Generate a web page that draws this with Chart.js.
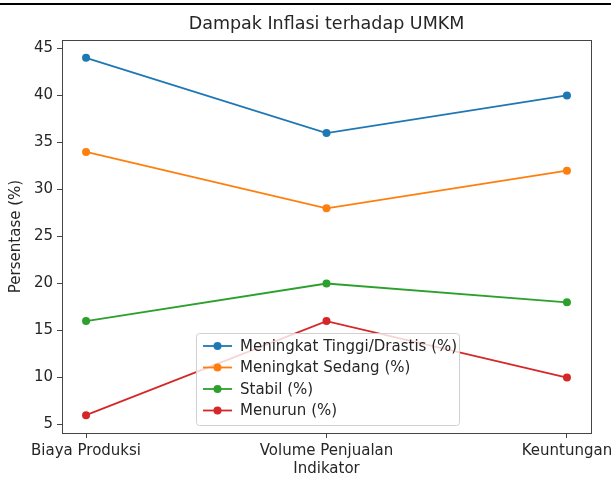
<!DOCTYPE html>
<html>
<head>
<meta charset="utf-8">
<script src="https://cdn.jsdelivr.net/npm/chart.js@4/dist/chart.umd.min.js"></script>
<style>
  html, body { margin: 0; padding: 0; background: #fff; }
  #wrap { position: relative; width: 611px; height: 478px; }
  #topline { position: absolute; left: 0; top: 3px; width: 611px; height: 2px; background: #000; }
</style>
</head>
<body>
<div id="wrap">
  <canvas id="chart" width="611" height="478"></canvas>
  <div id="topline"></div>
</div>
<script>
// data
const indikator = ["Biaya Produksi", "Volume Penjualan", "Keuntungan"];
const tinggi = [44, 36, 40];
const sedang = [34, 28, 32];
const stabil = [16, 20, 18];
const menurun = [6, 16, 10];
const seriesLabels = ["Meningkat Tinggi/Drastis (%)", "Meningkat Sedang (%)", "Stabil (%)", "Menurun (%)"];
const yTicks = [5, 10, 15, 20, 25, 30, 35, 40, 45];

const colors = ["#1f77b4", "#ff7f0e", "#2ca02c", "#d62728"];
const FONT = "'DejaVu Sans', sans-serif";
const TEXT = "#262626";

function toPoints(arr) {
  return arr.map((v, i) => ({ x: i, y: v }));
}

const datasets = [tinggi, sedang, stabil, menurun].map((arr, i) => ({
  label: seriesLabels[i],
  data: toPoints(arr),
  borderColor: colors[i],
  backgroundColor: colors[i],
  borderWidth: 1.8,
  pointRadius: 4,
  pointHoverRadius: 4,
  pointBorderWidth: 0,
  tension: 0,
}));

// frame, title and legend drawn matplotlib style
const mplExtras = {
  id: "mplExtras",
  afterDraw(chart) {
    const ctx = chart.ctx;
    const ca = chart.chartArea;
    ctx.save();
    // axes frame
    ctx.strokeStyle = "#444";
    ctx.lineWidth = 1;
    ctx.strokeRect(Math.round(ca.left) + 0.5, Math.round(ca.top) + 0.5,
      Math.round(ca.right - ca.left), Math.round(ca.bottom - ca.top));

    // title
    ctx.fillStyle = TEXT;
    ctx.font = "17.5px " + FONT;
    ctx.textAlign = "center";
    ctx.textBaseline = "middle";
    ctx.fillText("Dampak Inflasi terhadap UMKM", (ca.left + ca.right) / 2, 24);

    // legend
    const lx = ca.left + 134, ly = ca.top + 293, lw = 263, lh = 92;
    ctx.fillStyle = "rgba(255,255,255,0.8)";
    ctx.strokeStyle = "#d0d0d0";
    ctx.lineWidth = 1;
    ctx.beginPath();
    ctx.roundRect(lx + 0.5, ly + 0.5, lw, lh, 3);
    ctx.fill();
    ctx.stroke();
    ctx.font = "15px " + FONT;
    ctx.textAlign = "left";
    chart.data.datasets.forEach((ds, i) => {
      const y = ly + 13 + i * 21.5;
      ctx.strokeStyle = ds.borderColor;
      ctx.lineWidth = 1.8;
      ctx.beginPath();
      ctx.moveTo(lx + 7, y);
      ctx.lineTo(lx + 36, y);
      ctx.stroke();
      ctx.fillStyle = ds.backgroundColor;
      ctx.beginPath();
      ctx.arc(lx + 21.5, y, 4, 0, Math.PI * 2);
      ctx.fill();
      ctx.fillStyle = TEXT;
      ctx.fillText(ds.label, lx + 44, y + 1);
    });
    ctx.restore();
  }
};

new Chart(document.getElementById("chart"), {
  type: "line",
  data: { datasets },
  options: {
    responsive: false,
    animation: false,
    events: [],
    layout: { padding: { left: 0, top: 40, right: 20, bottom: 0 } },
    plugins: {
      legend: { display: false },
      title: { display: false },
      tooltip: { enabled: false },
    },
    scales: {
      x: {
        type: "linear",
        min: -0.1,
        max: 2.1,
        afterBuildTicks: (scale) => {
          scale.ticks = indikator.map((_, i) => ({ value: i }));
        },
        afterFit: (scale) => {
          scale.height = 45;
          // let the last label run off the edge like the original
          scale.paddingLeft = 0;
          scale.paddingRight = 0;
        },
        grid: { drawOnChartArea: false, drawTicks: true, tickLength: 5, color: "#444" },
        border: { display: false },
        ticks: {
          color: TEXT,
          font: { family: FONT, size: 15 },
          padding: 4,
          maxRotation: 0,
          autoSkip: false,
          callback: (v) => indikator[v],
        },
        title: {
          display: true,
          text: "Indikator",
          color: TEXT,
          font: { family: FONT, size: 15 },
          padding: { top: 0, bottom: 0 },
        },
      },
      y: {
        min: 4.1,
        max: 45.9,
        afterBuildTicks: (scale) => {
          scale.ticks = yTicks.map((v) => ({ value: v }));
        },
        afterFit: (scale) => { scale.width = 62; },
        grid: { drawOnChartArea: false, drawTicks: true, tickLength: 5, color: "#444" },
        border: { display: false },
        ticks: {
          color: TEXT,
          font: { family: FONT, size: 15 },
          padding: 4,
        },
        title: {
          display: true,
          text: "Persentase (%)",
          color: TEXT,
          font: { family: FONT, size: 15 },
          padding: { top: 7, bottom: 0 },
        },
      },
    },
  },
  plugins: [mplExtras],
});
</script>
</body>
</html>
